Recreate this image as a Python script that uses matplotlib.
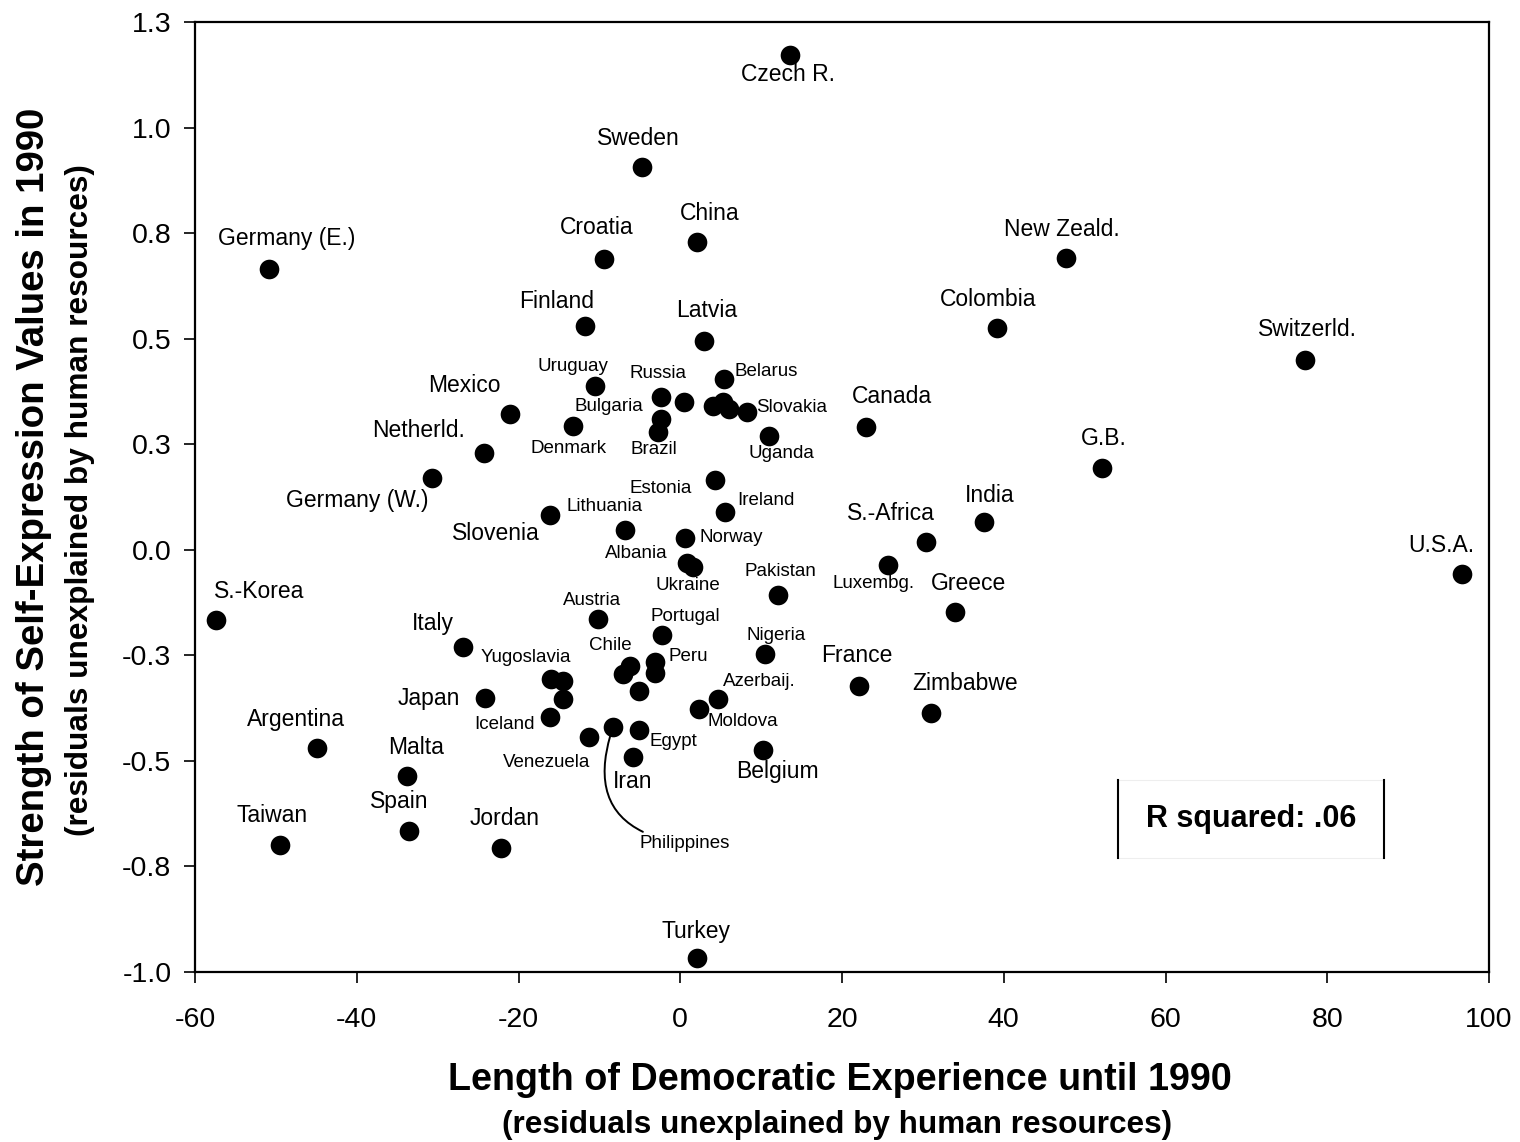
import matplotlib
matplotlib.use("Agg")
import matplotlib.pyplot as plt
from matplotlib.patches import Rectangle
from matplotlib.lines import Line2D

plt.rcParams['font.family'] = ['Liberation Sans', 'DejaVu Sans']
plt.rcParams['axes.unicode_minus'] = False

# data (residuals)
countries = [
    "Czech R.", "Sweden", "China", "Croatia", "Germany (E.)", "New Zeald.", "Finland",
    "Latvia", "Colombia", "Switzerld.", "Uruguay", "Russia", "", "Belarus", "", "", "",
    "Slovakia", "Bulgaria", "Brazil", "Denmark", "Mexico", "Uganda", "Canada", "Netherld.",
    "G.B.", "Germany (W.)", "Estonia", "Ireland", "Slovenia", "Lithuania", "Norway",
    "Albania", "Ukraine", "India", "S.-Africa", "Luxembg.", "U.S.A.", "S.-Korea",
    "Pakistan", "Greece", "Austria", "Portugal", "Italy", "Nigeria", "Chile", "",
    "Peru", "", "Yugoslavia", "", "", "", "Japan", "Azerbaij.", "Moldova", "France",
    "Zimbabwe", "Iceland", "Philippines", "Egypt", "Venezuela", "Iran", "Belgium",
    "Argentina", "Malta", "Spain", "Taiwan", "Jordan", "Turkey",
]
democracy = [
    13.6, -4.7, 2.1, -9.4, -50.9, 47.7, -11.8,
    2.9, 39.2, 77.3, -10.6, -2.4, 0.5, 5.4, 4.0, 5.3, 6.0,
    8.3, -2.4, -2.8, -13.2, -21.1, 11.0, 23.0, -24.3,
    52.2, -30.7, 4.3, 5.5, -16.1, -6.8, 0.6,
    0.8, 1.6, 37.6, 30.4, 25.7, 96.7, -57.4,
    12.1, 34.0, -10.2, -2.3, -26.9, 10.5, -6.2, -7.1,
    -3.1, -3.1, -16.0, -14.5, -14.5, -5.1, -24.1, 4.7, 2.3, 22.1,
    31.0, -16.1, -8.3, -5.1, -11.3, -5.9, 10.2,
    -44.9, -33.8, -33.5, -49.5, -22.2, 2.1,
]
self_expression = [
    1.172, 0.907, 0.729, 0.689, 0.665, 0.691, 0.530,
    0.495, 0.525, 0.450, 0.389, 0.363, 0.351, 0.404, 0.341, 0.351, 0.333,
    0.327, 0.310, 0.280, 0.292, 0.322, 0.270, 0.291, 0.229,
    0.194, 0.170, 0.165, 0.089, 0.082, 0.047, 0.029,
    -0.031, -0.041, 0.066, 0.018, -0.036, -0.057, -0.166,
    -0.107, -0.148, -0.164, -0.203, -0.230, -0.247, -0.275, -0.295,
    -0.265, -0.291, -0.306, -0.310, -0.353, -0.335, -0.352, -0.353, -0.377, -0.322,
    -0.386, -0.397, -0.419, -0.427, -0.444, -0.491, -0.474,
    -0.469, -0.536, -0.666, -0.699, -0.707, -0.967,
]
y_ticks = [-1.0, -0.75, -0.5, -0.25, 0.0, 0.25, 0.5, 0.75, 1.0, 1.25]
y_tick_labels = ["-1.0", "-0.8", "-0.5", "-0.3", "0.0", "0.3", "0.5", "0.8", "1.0", "1.3"]
x_ticks = [-60, -40, -20, 0, 20, 40, 60, 80, 100]
r_squared = ".06"

# label placement: offset in pixels from the dot, big or small font
big = {
    "Czech R.": (-2, -20), "Sweden": (-4, 28), "China": (12, 28), "Croatia": (-8, 31),
    "Germany (E.)": (18, 31), "New Zeald.": (-4, 29), "Finland": (-28, 25),
    "Latvia": (3, 30), "Colombia": (-9, 29), "Switzerld.": (2, 30), "Mexico": (-45, 28),
    "Canada": (26, 30), "Netherld.": (-65, 23), "G.B.": (1, 29), "Germany (W.)": (-75, -22),
    "Slovenia": (-54, -18), "India": (5, 26), "S.-Africa": (-35, 29), "U.S.A.": (-21, 28),
    "S.-Korea": (43, 28), "Greece": (13, 29), "Italy": (-30, 23), "France": (-2, 30),
    "Zimbabwe": (34, 29), "Japan": (-57, 0), "Argentina": (-21, 28), "Malta": (9, 29),
    "Spain": (-10, 29), "Taiwan": (-8, 29), "Jordan": (4, 30), "Turkey": (-1, 27),
    "Iran": (0, -24), "Belgium": (15, -22),
}
small = {
    "Uruguay": (-22, 19), "Russia": (-3, 23), "Belarus": (42, 8), "Slovakia": (44, 4),
    "Bulgaria": (-52, 12), "Denmark": (-5, -22), "Brazil": (-4, -18), "Uganda": (12, -18),
    "Estonia": (-54, -8), "Ireland": (41, 12), "Lithuania": (-21, 23), "Norway": (46, 0),
    "Albania": (-50, 9), "Ukraine": (-5, -18), "Pakistan": (2, 23), "Luxembg.": (-15, -19),
    "Austria": (-6, 19), "Portugal": (24, 19), "Nigeria": (11, 19), "Chile": (-20, 20),
    "Peru": (33, 5), "Yugoslavia": (-25, 21), "Azerbaij.": (41, 17), "Moldova": (44, -13),
    "Iceland": (-46, -7), "Egypt": (34, -11), "Venezuela": (-42, -25),
}

fig = plt.figure(figsize=(15.2, 11.42), dpi=100)
ax = fig.add_axes([195 / 1520, 1 - 972 / 1142, (1489 - 195) / 1520, (972 - 22) / 1142])

ax.scatter(democracy, self_expression, s=200, color="black", zorder=3, linewidths=0)

for name, x, y in zip(countries, democracy, self_expression):
    if name in big:
        ax.annotate(name, (x, y), xytext=big[name], textcoords="offset pixels",
                    ha="center", va="center", fontsize=16.5)
    elif name in small:
        ax.annotate(name, (x, y), xytext=small[name], textcoords="offset pixels",
                    ha="center", va="center", fontsize=13.5)
    elif name == "Philippines":
        ax.annotate(name, (x, y), xytext=(26, -117), textcoords="offset pixels",
                    ha="left", va="center", fontsize=13.5,
                    arrowprops=dict(arrowstyle="-", color="black", lw=1.4,
                                    connectionstyle="arc3,rad=-0.6",
                                    shrinkA=1, shrinkB=6))

ax.set_xlim(-60, 100)
ax.set_ylim(-1.0, 1.25)
ax.set_xticks(x_ticks)
ax.set_yticks(y_ticks)
ax.set_yticklabels(y_tick_labels)
ax.tick_params(direction="out", length=8, width=1.2, labelsize=20.5)
ax.tick_params(axis="x", pad=17)
ax.tick_params(axis="y", pad=9)
for sp in ax.spines.values():
    sp.set_linewidth(1.6)

# axis titles
fig.text(840 / 1520, 1 - 1080 / 1142, "Length of Democratic Experience until 1990",
         ha="center", va="center", fontsize=27.2, fontweight="bold")
fig.text(837 / 1520, 1 - 1125 / 1142, "(residuals unexplained by human resources)",
         ha="center", va="center", fontsize=22.7, fontweight="bold")
fig.text(34 / 1520, 1 - 497 / 1142, "Strength of Self-Expression Values in 1990",
         ha="center", va="center", rotation=90, fontsize=27.6, fontweight="bold")
fig.text(80 / 1520, 1 - 500 / 1142, "(residuals unexplained by human resources)",
         ha="center", va="center", rotation=90, fontsize=22.8, fontweight="bold")

# R squared box
bx0, bx1 = (1118 - 195) / 1294, (1384 - 195) / 1294
by0, by1 = (972 - 858) / 950, (972 - 780) / 950
ax.add_patch(Rectangle((bx0, by0), bx1 - bx0, by1 - by0, transform=ax.transAxes,
                       facecolor="white", edgecolor="#eeeeee", lw=0.8, zorder=4))
ax.add_line(Line2D([bx0, bx0], [by0, by1], transform=ax.transAxes, color="black", lw=1.5, zorder=5))
ax.add_line(Line2D([bx1, bx1], [by0, by1], transform=ax.transAxes, color="black", lw=1.5, zorder=5))
ax.text((bx0 + bx1) / 2, (by0 + by1) / 2, "R squared: " + r_squared, transform=ax.transAxes,
        ha="center", va="center", fontsize=22, fontweight="bold", zorder=6)

fig.savefig("out.png", dpi=100)
